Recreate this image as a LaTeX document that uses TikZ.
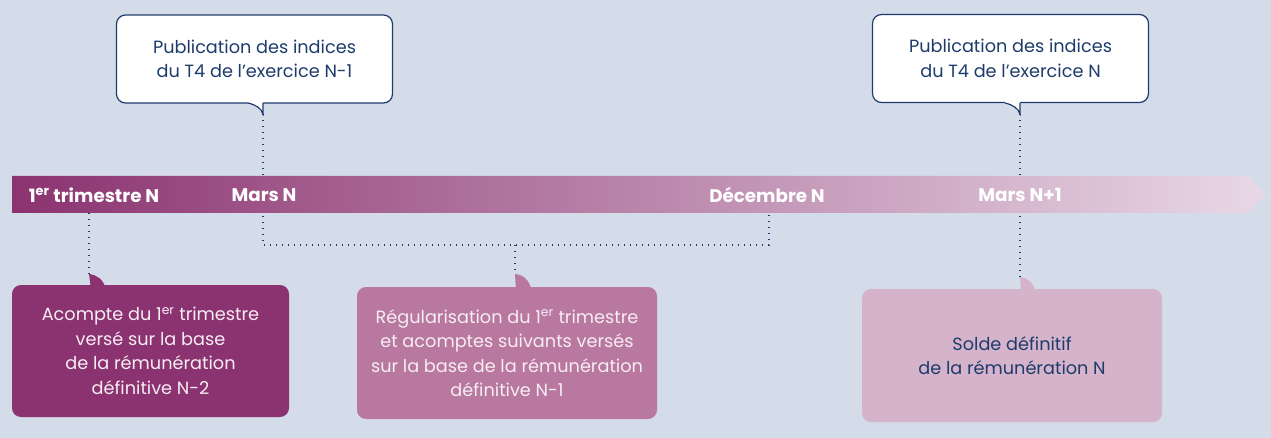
\documentclass[tikz,border=0pt]{standalone}
\usepackage{fontspec}
\setmainfont{Poppins}
\definecolor{bg}{HTML}{D5DCE9}
\definecolor{navy}{HTML}{1E3C6B}
\definecolor{boxA}{HTML}{8B3370}
\definecolor{boxB}{HTML}{B8789F}
\definecolor{boxC}{HTML}{D5B3CA}
\definecolor{barL}{HTML}{8B3370}
\definecolor{barM}{HTML}{AA5E92}
\definecolor{barR}{HTML}{E8D8E6}
\definecolor{lighttext}{HTML}{F7EDF3}
\newcommand{\sups}[1]{\textsuperscript{#1}}
\tikzset{
  txt/.style={font=\fontsize{17.7}{24.5}\selectfont, align=center, inner sep=0pt},
  topbox/.style={txt, rounded corners=9pt, draw=navy, line width=1.2pt, fill=white, text=navy, minimum width=276pt, minimum height=88pt},
  botbox/.style={txt, rounded corners=9pt, minimum width=#1, minimum height=132pt},
  barlabel/.style={font=\fontsize{18.3}{20}\selectfont\bfseries, text=white, inner sep=0pt},
  dots/.style={navy, line width=1.3pt, dash pattern=on 1.3pt off 4.7pt},
}
\begin{document}
\begin{tikzpicture}[x=1pt,y=-1pt]
\useasboundingbox (0,0) rectangle (1271,438);
\fill[bg] (0,0) rectangle (1271,438);

% coordinates
\coordinate (tp1) at (263,114);
\coordinate (tp2) at (1020,114);
\coordinate (bA) at (89,274);
\coordinate (bB) at (515,274);
\coordinate (bC) at (1020,277);
\coordinate (cL) at (263,245);
\coordinate (cR) at (769,245);
\coordinate (cM) at (515,245);
\coordinate (dec) at (769,213);
\coordinate (q1) at (89,213);

% dotted connectors
\draw[dots] (tp1) -- (cL) -- (cR) -- (dec);
\draw[dots] (cM) -- (bB);
\draw[dots] (q1) -- (bA);
\draw[dots] (tp2) -- (bC);

% bar
\shade[left color=barL, middle color=barM, right color=barR]
  (12,176) -- (1248,176) -- (1265,194.5) -- (1248,213) -- (12,213) -- cycle;
\node[barlabel] (l1) at (94,195) {1\sups{er} trimestre N};
\node[barlabel] (l2) at (264,195) {Mars N};
\node[barlabel] (l3) at (767,195) {Décembre N};
\node[barlabel] (l4) at (1020,195) {Mars N+1};

% top bubbles
\node[topbox] (t1) at (254.5,59) {Publication des indices\\du T4 de l’exercice N-1};
\fill[white] (248,101) -- (248,103) .. controls (256,105) and (261,108) .. (263,114) -- (263,103) -- (263,101) -- cycle;
\draw[navy, line width=1.2pt] (248,103) .. controls (256,105) and (261,108) .. (tp1) -- (263,103);

\node[topbox] (t2) at (1010.5,58.5) {Publication des indices\\du T4 de l’exercice N};
\fill[white] (1005,101) -- (1005,103) .. controls (1013,105) and (1018,108) .. (1020,114) -- (1020,103) -- (1020,101) -- cycle;
\draw[navy, line width=1.2pt] (1005,103) .. controls (1013,105) and (1018,108) .. (tp2) -- (1020,103);

% bottom boxes
\node[botbox=277pt, fill=boxA, text=lighttext] (A) at (150.5,351) {Acompte du 1\sups{er} trimestre\\versé sur la base\\de la rémunération\\définitive N-2};
\fill[boxA] (bA) .. controls (97,275) and (103,279) .. (106,289) -- (91,289) -- cycle;

\node[botbox=300pt, fill=boxB, text=lighttext] (B) at (507,353) {Régularisation du 1\sups{er} trimestre\\et acomptes suivants versés\\sur la base de la rémunération\\définitive N-1};
\fill[boxB] (bB) .. controls (523,275) and (529,279) .. (532,291) -- (516,291) -- cycle;

\node[botbox=300pt, minimum height=133pt, fill=boxC, text=navy] (C) at (1012,355.5) {Solde définitif\\de la rémunération N};
\fill[boxC] (bC) .. controls (1028,278) and (1033,282) .. (1036,293) -- (1021,293) -- cycle;
\end{tikzpicture}
\end{document}
